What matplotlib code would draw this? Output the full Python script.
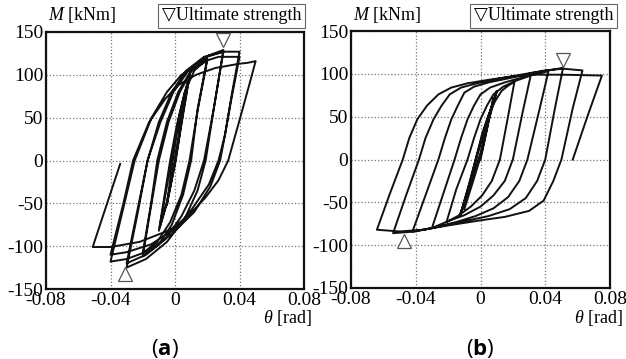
import matplotlib
matplotlib.use("Agg")
import matplotlib.pyplot as plt

plt.rcParams['font.family'] = ['Liberation Serif', 'DejaVu Sans']
plt.rcParams['mathtext.fontset'] = 'custom'
plt.rcParams['mathtext.rm'] = 'Liberation Serif'
plt.rcParams['mathtext.it'] = 'Liberation Serif:italic'
plt.rcParams['mathtext.bf'] = 'Open Sans:bold'
plt.rcParams['axes.unicode_minus'] = False

# tick values / labels
x_ticks = [-0.08, -0.04, 0, 0.04, 0.08]
x_labels = ['-0.08', '-0.04', '0', '0.04', '0.08']
y_ticks = [-150, -100, -50, 0, 50, 100, 150]
y_labels = ['-150', '-100', '-50', '0', '50', '100', '150']

# (a) rotation [rad] / moment [kNm], full loading history
theta_a = [
    0, 0.003, 0.0055, 0.002, -0.001, -0.005,
    -0.0025, 0.001, 0.005, 0.009, 0.004, 0.0, -0.005, -0.0095,
    -0.005, -0.002, 0.003, 0.0095, 0.004, 0.0, -0.005, -0.010,
    -0.006, -0.003, 0.001, 0.006, 0.012, 0.020,
    0.014, 0.010, 0.005, -0.002, -0.010, -0.020,
    -0.015, -0.010, -0.004, 0.003, 0.010, 0.020,
    0.014, 0.009, 0.004, -0.003, -0.011, -0.020,
    -0.015, -0.011, -0.005, 0.002, 0.010, 0.020, 0.030,
    0.024, 0.019, 0.014, 0.006, -0.005, -0.018, -0.030,
    -0.023, -0.017, -0.010, -0.002, 0.007, 0.018, 0.030,
    0.024, 0.018, 0.012, 0.004, -0.006, -0.018, -0.030,
    -0.023, -0.017, -0.009, -0.001, 0.008, 0.018, 0.030, 0.040,
    0.035, 0.031, 0.028, 0.022, 0.012, -0.002, -0.017, -0.030, -0.040,
    -0.032, -0.025, -0.0145, -0.005, 0.004, 0.015, 0.027, 0.040,
    0.035, 0.031, 0.027, 0.021, 0.010, 0.000, -0.015, -0.030, -0.040,
    -0.032, -0.026, -0.016, -0.006, 0.002, 0.013, 0.025, 0.040, 0.045, 0.050,
    0.046, 0.040, 0.033, 0.027, 0.019, 0.008, -0.003, -0.022, -0.040, -0.051,
    -0.050, -0.034,
]
moment_a = [
    0, 38, 65, 20, -12, -52,
    -15, 30, 70, 100, 45, -2, -48, -78,
    -30, 5, 55, 104, 42, -5, -50, -82,
    -35, 0, 40, 80, 105, 119,
    60, 0, -40, -75, -98, -112,
    -55, 0, 45, 80, 104, 117,
    58, 0, -40, -72, -95, -108,
    -52, 0, 45, 80, 105, 122, 129,
    60, 0, -35, -68, -95, -115, -125,
    -60, 0, 45, 80, 105, 121, 127,
    60, 0, -35, -65, -92, -110, -120,
    -55, 0, 45, 80, 104, 120, 127, 127,
    75, 30, 0, -30, -60, -86, -106, -115, -118,
    -55, 0, 50, 80, 100, 114, 121, 121,
    72, 30, 0, -28, -58, -80, -98, -107, -110,
    -50, 0, 45, 72, 88, 100, 108, 113, 114, 116,
    88, 47, 0, -23, -43, -65, -81, -95, -101, -101,
    -95, -4,
]

# (b)
theta_b = [
    0, 0.004, 0.008, 0.004, 0.0, -0.005, -0.010,
    -0.006, -0.002, 0.004, 0.010, 0.005, 0.0, -0.006, -0.0125,
    -0.007, -0.003, 0.003, 0.010, 0.005, 0.001, -0.006, -0.0125,
    -0.007, -0.003, 0.001, 0.005, 0.009, 0.013, 0.017, 0.021,
    0.017, 0.012, 0.007, 0.001, -0.006, -0.014, -0.021,
    -0.015, -0.008, -0.004, 0.000, 0.004, 0.008, 0.014, 0.022, 0.031,
    0.026, 0.020, 0.015, 0.008, 0.000, -0.010, -0.020, -0.030,
    -0.023, -0.016, -0.012, -0.008, -0.004, 0.000, 0.006, 0.015, 0.028, 0.042,
    0.036, 0.029, 0.024, 0.017, 0.008, -0.003, -0.015, -0.030, -0.042,
    -0.034, -0.026, -0.022, -0.018, -0.014, -0.010, -0.004, 0.005, 0.018, 0.032, 0.045, 0.051,
    0.046, 0.040, 0.035, 0.028, 0.018, 0.005, -0.010, -0.025, -0.040, -0.054,
    -0.046, -0.038, -0.034, -0.029, -0.024, -0.019, -0.012, -0.002, 0.010, 0.025, 0.040, 0.051, 0.063,
    0.057, 0.050, 0.045, 0.039, 0.030, 0.015, 0.000, -0.020, -0.035, -0.050, -0.064,
    -0.056, -0.048, -0.044, -0.039, -0.033, -0.026, -0.018, -0.008, 0.005, 0.020, 0.032, 0.050, 0.075,
    0.066, 0.057,
]
moment_b = [
    0, 35, 72, 38, 3, -28, -58,
    -25, 5, 45, 80, 47, 8, -30, -65,
    -28, 0, 40, 79, 45, 10, -30, -64,
    -30, 0, 30, 52, 68, 80, 86, 91,
    50, 0, -25, -42, -55, -66, -73,
    -35, 0, 25, 47, 63, 76, 85, 92, 98,
    55, 0, -25, -42, -55, -65, -72, -80,
    -40, 0, 25, 47, 63, 76, 84, 90, 97, 103,
    55, 0, -25, -44, -57, -66, -73, -80, -84,
    -42, 0, 25, 47, 63, 78, 85, 90, 95, 101, 105, 107,
    60, 0, -25, -45, -58, -66, -72, -78, -84, -86,
    -42, 0, 25, 47, 63, 76, 84, 89, 94, 99, 104, 106, 104,
    60, 0, -25, -48, -60, -67, -71, -77, -82, -84, -82,
    -40, 0, 25, 47, 63, 76, 84, 89, 93, 97, 99, 99, 98,
    50, 0,
]

# ultimate strength markers
ult_a_theta = [0.0296, -0.031]
ult_a_moment = [141, -133]
ult_b_theta = [0.051, -0.047]
ult_b_moment = [116, -95]

W, H = 626, 359
fig = plt.figure(figsize=(W / 100, H / 100), dpi=100)


def px(x, y):
    return x / W, 1 - y / H


panels = [
    (theta_a, moment_a, ult_a_theta, ult_a_moment, (46, 32, 304, 289), 'a',
     48, 304, 312, 165),
    (theta_b, moment_b, ult_b_theta, ult_b_moment, (351, 31, 610, 288), 'b',
     353, 616, 623, 480),
]

for th, mo, ut, um, (l, t, r, b), tag, mx, boxr, thx, labx in panels:
    ax = fig.add_axes([l / W, 1 - b / H, (r - l) / W, (b - t) / H])
    ax.plot(th, mo, color='#111111', lw=1.4, solid_joinstyle='round')
    ax.plot(ut[0], um[0], ls='none', marker='v', ms=10, mfc='white',
            mec='#555555', mew=0.9, zorder=5)
    ax.plot(ut[1], um[1], ls='none', marker='^', ms=10, mfc='white',
            mec='#555555', mew=0.9, zorder=5)
    ax.set_xlim(-0.08, 0.08)
    ax.set_ylim(-150, 150)
    ax.set_xticks(x_ticks)
    ax.set_xticklabels(x_labels)
    ax.set_yticks(y_ticks)
    ax.set_yticklabels(y_labels)
    ax.tick_params(length=0, labelsize=14, pad=2)
    ax.grid(True, ls=':', color='#777777', lw=0.9)
    for s in ax.spines.values():
        s.set_linewidth(1.6)
        s.set_color('#111111')

    fig.text(*px(mx, 15), '$M$ [kNm]', fontsize=13, va='center', ha='left')
    fig.text(*px(boxr - 3, 16), '\u25bdUltimate strength',
             fontsize=13, va='center', ha='right',
             bbox=dict(boxstyle='square,pad=0.22', fc='white', ec='#666666', lw=0.8))
    fig.text(*px(thx, 318), r'$\theta$ [rad]', fontsize=13, va='center', ha='right')
    fig.text(*px(labx, 349), '($\\mathbf{%s}$)' % tag, fontsize=16,
             family='Open Sans', va='center', ha='center')

fig.savefig('out.png', dpi=100)
